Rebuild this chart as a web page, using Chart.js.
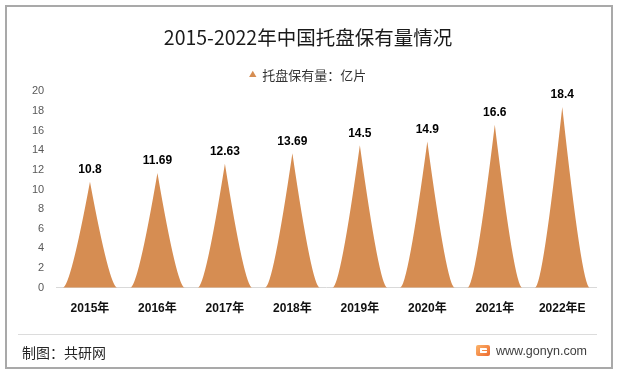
<!DOCTYPE html>
<html>
<head>
<meta charset="utf-8">
<script src="https://cdn.jsdelivr.net/npm/chart.js@4.4.1/dist/chart.umd.min.js"></script>
<style>
  html, body { margin: 0; padding: 0; background: #fff; }
  #wrap { position: relative; width: 618px; height: 374px; overflow: hidden; }
  #chart { position: absolute; left: 0; top: 0; }
  .frame { position: absolute; left: 5px; top: 5px; width: 608px; height: 364px; box-sizing: border-box; border: 2px solid #a9a9a9; pointer-events: none; }
  .sep { position: absolute; left: 18px; top: 334px; width: 579px; height: 1px; background: #dcdcdc; }
  .src { position: absolute; left: 22px; top: 343px; font: 14px/18px "Noto Sans CJK SC", sans-serif; color: #262626; }
  .logo { position: absolute; left: 476px; top: 345px; width: 14px; height: 11px; border-radius: 2px; background: linear-gradient(135deg, #fbb46a, #ee6a2f); }
  .logo i { position: absolute; left: 4px; top: 3px; width: 7px; height: 5px; border: 2px solid #fff; border-right: none; border-radius: 1px; box-sizing: border-box; }
  .site { position: absolute; left: 496px; top: 343px; font: 12.5px/16px "Liberation Sans", Arial, sans-serif; color: #404040; }
</style>
</head>
<body>
<div id="wrap">
  <canvas id="chart" width="618" height="374"></canvas>
  <div class="frame"></div>
  <div class="sep"></div>
  <div class="src">制图：共研网</div>
  <div class="logo"><i></i></div>
  <div class="site">www.gonyn.com</div>
</div>
<script>
// -----------------------
// Data
// -----------------------
const years = ['2015年', '2016年', '2017年', '2018年', '2019年', '2020年', '2021年', '2022年E'];
const pallets = [10.8, 11.69, 12.63, 13.69, 14.5, 14.9, 16.6, 18.4];
const seriesName = '托盘保有量：亿片';
const yTicks = [0, 2, 4, 6, 8, 10, 12, 14, 16, 18, 20];

const PEAK = '#D68D52';
const LATIN = '"Liberation Sans", "Noto Sans CJK SC", sans-serif';

// -----------------------
// Peak shape plugin (draws over the bar elements)
// -----------------------
const peaks = {
  id: 'peaks',
  beforeDatasetDraw() { return false; },
  afterDatasetsDraw(chart) {
    const ctx = chart.ctx;
    const meta = chart.getDatasetMeta(0);
    ctx.save();
    meta.data.forEach((bar, i) => {
      const { x, y, base, width } = bar.getProps(['x', 'y', 'base', 'width'], true);
      const hw = width / 2;
      ctx.beginPath();
      ctx.moveTo(x - hw, base);
      ctx.quadraticCurveTo(x - hw * 0.72, base, x, y);
      ctx.quadraticCurveTo(x + hw * 0.72, base, x + hw, base);
      ctx.closePath();
      ctx.fillStyle = PEAK;
      ctx.fill();

      ctx.fillStyle = '#000';
      ctx.font = 'bold 12px ' + LATIN;
      ctx.textAlign = 'center';
      ctx.textBaseline = 'middle';
      ctx.fillText(String(pallets[i]), x, y - 12);
    });
    ctx.restore();
  }
};

new Chart(document.getElementById('chart'), {
  type: 'bar',
  data: {
    labels: years,
    datasets: [{
      label: seriesName,
      data: pallets,
      backgroundColor: PEAK,
      borderWidth: 0,
      categoryPercentage: 1,
      barPercentage: 0.81
    }]
  },
  options: {
    responsive: false,
    devicePixelRatio: 1,
    animation: false,
    layout: { padding: { top: 6, left: 20, right: 22, bottom: 44 } },
    plugins: {
      title: {
        display: true,
        text: '2015-2022年中国托盘保有量情况',
        color: '#1a1a1a',
        font: { family: '"Noto Sans CJK SC", sans-serif', size: 19.5, weight: 'normal' },
        padding: { top: 20, bottom: 11 }
      },
      legend: {
        display: true,
        labels: {
          usePointStyle: true,
          pointStyle: 'triangle',
          boxWidth: 6,
          boxHeight: 6,
          padding: 8,
          color: '#333',
          font: { family: '"Noto Sans CJK SC", sans-serif', size: 13 }
        }
      },
      tooltip: { enabled: false }
    },
    scales: {
      x: {
        grid: { display: false, drawTicks: false },
        border: { display: true, color: '#d9d9d9' },
        ticks: {
          padding: 14,
          color: '#111',
          font: { family: LATIN, size: 12, weight: 'bold' }
        }
      },
      y: {
        min: yTicks[0],
        max: yTicks[yTicks.length - 1],
        afterBuildTicks: axis => { axis.ticks = yTicks.map(v => ({ value: v })); },
        grid: { display: false, drawTicks: false },
        border: { display: false },
        ticks: {
          padding: 12,
          color: '#595959',
          font: { family: LATIN, size: 11 }
        }
      }
    }
  },
  plugins: [peaks]
});
</script>
</body>
</html>
